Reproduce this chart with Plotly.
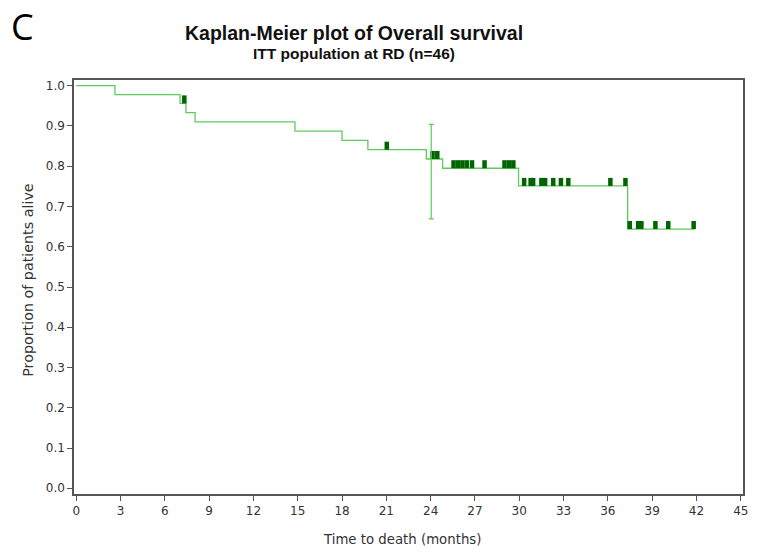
import plotly.graph_objects as go

# ---- data ----
event_times = [0, 2.62, 7.03, 7.43, 8.05, 14.81, 18.0, 19.75, 23.71, 24.81, 29.95, 37.34]
survival = [1.0, 0.978, 0.956, 0.933, 0.910, 0.887, 0.864, 0.841, 0.818, 0.795, 0.751, 0.644]
end_time = 41.9
censor_times = [7.32, 21.03, 24.13, 24.45, 25.55, 25.85, 26.15, 26.45, 26.8, 27.65,
                29.0, 29.3, 29.6, 30.33, 30.77, 30.94, 31.5, 31.75, 32.3, 32.82,
                33.32, 36.17, 37.19, 37.48, 38.05, 38.27, 39.22, 40.09, 41.81]
ci_time = [24.04]
ci_lower = [0.669]
ci_upper = [0.904]
x_ticks = list(range(0, 46, 3))
y_ticks = [round(i * 0.1, 1) for i in range(11)]

LINE = "#5dcb5d"
CENS = "#006400"


def surv_at(t):
    s = survival[0]
    for et, sv in zip(event_times, survival):
        if et <= t:
            s = sv
    return s


# step curve
sx = list(event_times) + [end_time]
sy = list(survival) + [survival[-1]]

# censor ticks as short vertical segments sitting on the curve
cx, cy = [], []
for t in censor_times:
    s = surv_at(t)
    cx += [t, t, None]
    cy += [s, s + 0.02, None]

ci_mid = [surv_at(t) for t in ci_time]

fig = go.Figure()
fig.add_trace(go.Scatter(x=sx, y=sy, mode="lines", line=dict(color=LINE, width=1.3, shape="hv"),
                         hoverinfo="skip", showlegend=False))
fig.add_trace(go.Scatter(x=cx, y=cy, mode="lines", line=dict(color=CENS, width=4.5),
                         hoverinfo="skip", showlegend=False))
fig.add_trace(go.Scatter(
    x=ci_time, y=ci_mid, mode="markers", marker=dict(size=0.1, color=LINE),
    error_y=dict(type="data", symmetric=False,
                 array=[u - m for u, m in zip(ci_upper, ci_mid)],
                 arrayminus=[m - l for l, m in zip(ci_lower, ci_mid)],
                 color=LINE, thickness=1.2, width=2.5),
    hoverinfo="skip", showlegend=False))

axis_common = dict(showgrid=False, zeroline=False, showline=True, linecolor="#555555", linewidth=1.5,
                   mirror=True, ticks="outside", ticklen=5, tickcolor="#555555", tickwidth=1,
                   tickfont=dict(family="DejaVu Sans", size=12, color="#333333"))

fig.update_layout(
    width=757, height=554,
    margin=dict(l=73.7, r=8.3, t=80, b=60),
    paper_bgcolor="white", plot_bgcolor="white",
    xaxis=dict(range=[-0.15, 45.15], tickvals=x_ticks, ticktext=[str(v) for v in x_ticks], **axis_common),
    yaxis=dict(range=[-0.0142, 1.0142], tickvals=y_ticks, ticktext=[f"{v:.1f}" for v in y_ticks], **axis_common),
    annotations=[
        dict(text="<b>Kaplan-Meier plot of Overall survival</b>", xref="paper", yref="paper",
             x=0.418, y=1.1135, showarrow=False, xanchor="center", yanchor="middle",
             font=dict(family="Liberation Sans", size=19.5, color="#111111")),
        dict(text="<b>ITT population at RD (n=46)</b>", xref="paper", yref="paper",
             x=0.418, y=1.065, showarrow=False, xanchor="center", yanchor="middle",
             font=dict(family="Liberation Sans", size=15.5, color="#111111")),
        dict(text="C", xref="paper", yref="paper", x=-0.0766, y=1.13, showarrow=False,
             xanchor="center", yanchor="middle", font=dict(family="Open Sans", size=36, color="black")),
        dict(text="Time to death (months)", xref="paper", yref="paper", x=0.49, y=-0.111,
             showarrow=False, xanchor="center", yanchor="middle",
             font=dict(family="DejaVu Sans", size=13.3, color="#333333")),
        dict(text="Proportion of patients alive", xref="paper", yref="paper", x=-0.069, y=0.517,
             showarrow=False, xanchor="center", yanchor="middle", textangle=-90,
             font=dict(family="DejaVu Sans", size=14.3, color="#333333")),
    ],
)

# remove the default 8px page margin so the figure fills the window exactly
fig.write_html("out.html", config={"displayModeBar": False},
               post_script="document.body.style.margin='0';")
